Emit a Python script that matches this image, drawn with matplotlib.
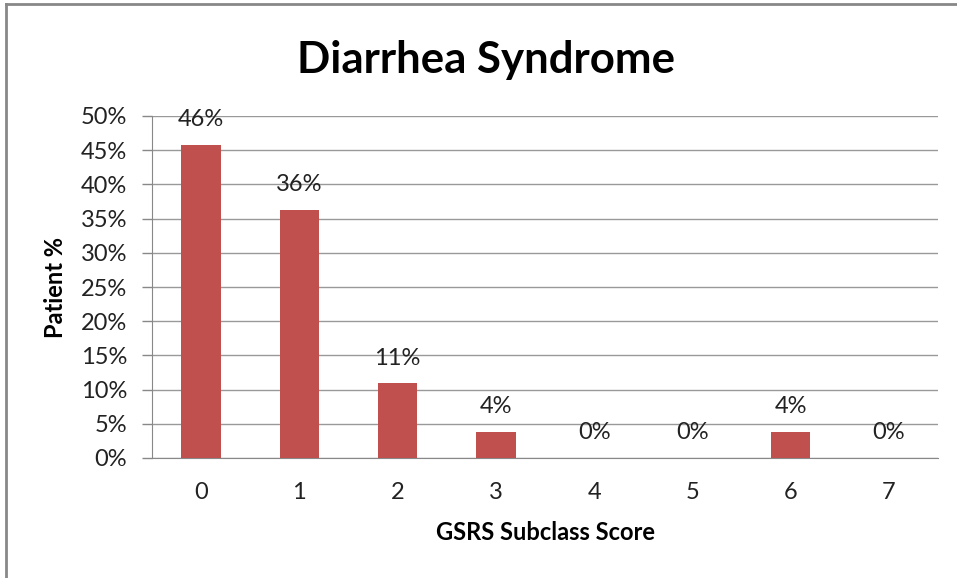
import matplotlib
matplotlib.use("Agg")
import matplotlib.pyplot as plt
from matplotlib.lines import Line2D

categories = ["0", "1", "2", "3", "4", "5", "6", "7"]
values = [45.8, 36.3, 10.9, 3.8, 0.0, 0.0, 3.8, 0.0]
labels = ["46%", "36%", "11%", "4%", "0%", "0%", "4%", "0%"]
yticks = [0, 5, 10, 15, 20, 25, 30, 35, 40, 45, 50]

plt.rcParams['font.family'] = ['Lato', 'DejaVu Sans']

fig = plt.figure(figsize=(9.57, 5.78), dpi=100)
ax = fig.add_axes([152/957, 1-458/578, (938-152)/957, (458-116)/578])

x = list(range(len(categories)))
ax.bar(x, values, width=0.4, color="#C0504D", zorder=3)
for xi, v, lab in zip(x, values, labels):
    ax.annotate(lab, xy=(xi, v), xytext=(0, 13.5), textcoords="offset points",
                ha="center", va="baseline", fontsize=17, color="#222222", zorder=4)

ax.set_xlim(-0.5, len(categories) - 0.5)
ax.set_ylim(0, 50)
ax.set_yticks(yticks)
ax.set_yticklabels([f"{t}%" for t in yticks], fontsize=17, color="#222222")
ax.set_xticks(x)
ax.set_xticklabels(categories, fontsize=17, color="#222222")
ax.tick_params(axis="x", length=0, pad=17)
ax.tick_params(axis="y", length=7, width=1, color="#888888", pad=11)
ax.yaxis.grid(True, color="#999999", linewidth=1, zorder=0)
for s in ["top", "right"]:
    ax.spines[s].set_visible(False)
ax.spines["left"].set_color("#888888")
ax.spines["bottom"].set_color("#888888")

ax.set_ylabel("Patient %", fontsize=17, fontweight="bold", labelpad=10)
ax.set_xlabel("GSRS Subclass Score", fontsize=17, fontweight="bold", labelpad=13)
fig.text(486/957, 1-73/578, "Diarrhea Syndrome", ha="center", va="baseline",
         fontsize=31.5, fontweight="bold")

# figure border (left and top visible)
fig.add_artist(Line2D([6/957, 6/957], [0, 1-4/578], color="#888888", linewidth=2, transform=fig.transFigure))
fig.add_artist(Line2D([6/957, 1], [1-4/578, 1-4/578], color="#888888", linewidth=2, transform=fig.transFigure))

fig.savefig("out.png", dpi=100)
